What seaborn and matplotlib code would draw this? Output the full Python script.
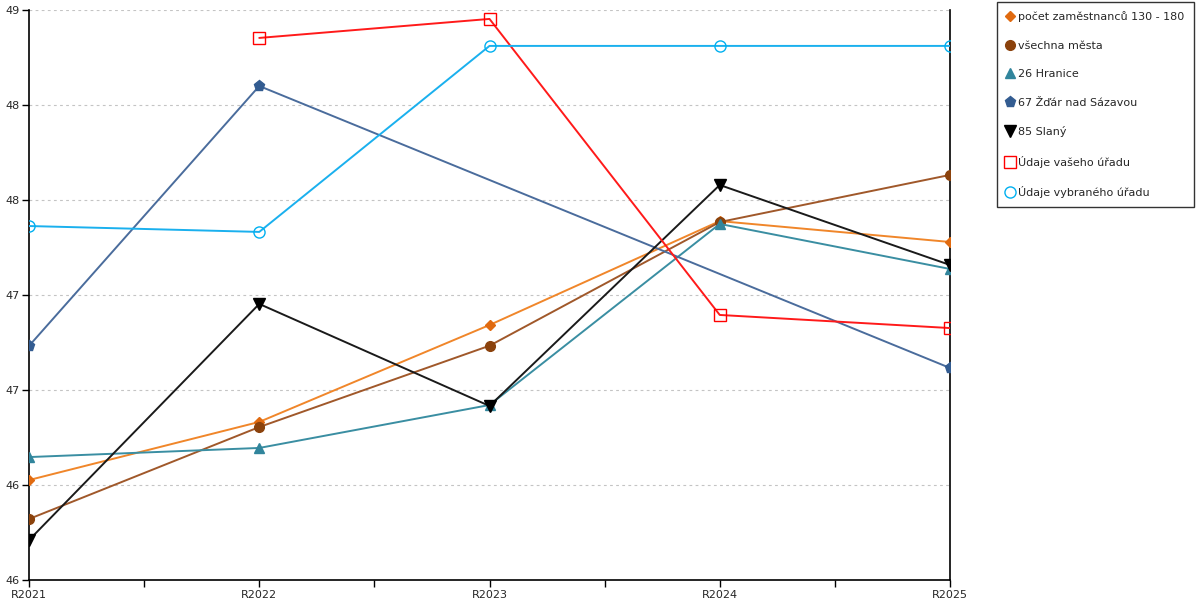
import numpy as np
import pandas as pd
import matplotlib
matplotlib.use("Agg")
import matplotlib.pyplot as plt
from matplotlib.lines import Line2D
import seaborn as sns

years = ["R2021", "R2022", "R2023", "R2024", "R2025"]

pocet = [46.526, 46.832, 47.342, 47.889, 47.779]
vsechna = [46.321, 46.805, 47.233, 47.884, 48.132]
hranice = [46.647, 46.695, 46.921, 47.874, 47.637]
zdar = [47.232, 48.600, np.nan, np.nan, 47.116]
slany = [46.210, 47.453, 46.916, 48.079, 47.658]
vas_urad = [np.nan, 48.853, 48.953, 47.395, 47.326]
vybrany_urad = [47.863, 47.832, 48.811, 48.811, 48.811]

series_names = ["počet zaměstnanců 130 - 180", "všechna města", "26 Hranice",
                "67 Žďár nad Sázavou", "85 Slaný", "Údaje vašeho úřadu",
                "Údaje vybraného úřadu"]
series_values = [pocet, vsechna, hranice, zdar, slany, vas_urad, vybrany_urad]

y_ticks = [46, 46.5, 47, 47.5, 48, 48.5, 49]
y_tick_labels = ["46", "46", "47", "47", "48", "48", "49"]

# style per series: line colour, marker, marker colour, filled, marker size
styles = [
    ("#F0862A", "D", "#E06A10", True, 5),
    ("#A0582A", "o", "#8B420C", True, 7),
    ("#3A8EA2", "^", "#31859C", True, 7),
    ("#4A6C9C", "p", "#335C91", True, 8),
    ("#1A1A1A", "v", "#000000", True, 8),
    ("#FF1A1A", "s", "#FF0000", False, 8),
    ("#1AB0EE", "o", "#00B0F0", False, 8),
]

rows = []
for name, vals in zip(series_names, series_values):
    for i, v in enumerate(vals):
        rows.append({"serie": name, "x": i, "value": v})
df = pd.DataFrame(rows)

sns.set_style("white")
plt.rcParams["font.family"] = ["DejaVu Sans"]

fig = plt.figure(figsize=(12, 6), dpi=100)
ax = fig.add_axes([29 / 1200, 1 - 580 / 600, (950 - 29) / 1200, 570 / 600])

handles = []
for name, (lc, mk, mc, filled, ms) in zip(series_names, styles):
    sub = df[df["serie"] == name].dropna()
    sns.lineplot(data=sub, x="x", y="value", ax=ax, color=lc, linewidth=1.4,
                 marker=mk, markersize=ms,
                 markerfacecolor=mc if filled else "none",
                 markeredgecolor=mc, markeredgewidth=1.0,
                 legend=False, zorder=3)
    handles.append(Line2D([], [], linestyle="none", marker=mk, markersize=ms,
                          markerfacecolor=mc if filled else "none",
                          markeredgecolor=mc, markeredgewidth=1.0, label=name))

ax.set_xlim(0, len(years) - 1)
ax.set_ylim(46, 49)
ax.set_xticks(range(len(years)))
ax.set_xticklabels(years)
ax.set_xticks(np.arange(0.5, len(years) - 1, 1), minor=True)
ax.set_yticks(y_ticks)
ax.set_yticklabels(y_tick_labels)
ax.set_xlabel("")
ax.set_ylabel("")

ax.yaxis.grid(True, color="#C4C4C4", linestyle=(0, (2.5, 3)), linewidth=0.8)
ax.xaxis.grid(False)
for s in ["left", "bottom", "right"]:
    ax.spines[s].set_visible(True)
    ax.spines[s].set_color("black")
    ax.spines[s].set_linewidth(1.2)
ax.spines["top"].set_visible(False)

ax.tick_params(axis="both", which="both", direction="out", length=5, width=1,
               color="black", labelsize=8, pad=2, bottom=True, left=True)
ax.tick_params(axis="x", which="minor", length=5)

leg = fig.legend(handles=handles, loc="upper left",
                 bbox_to_anchor=(997 / 1200, 1 - 2 / 600), frameon=True,
                 fontsize=8, handletextpad=0.35, labelspacing=1.66,
                 borderpad=0.85, handlelength=0.7, borderaxespad=0,
                 fancybox=False)
leg.get_frame().set_edgecolor("black")
leg.get_frame().set_linewidth(1.0)

fig.savefig("out.png", dpi=100)
